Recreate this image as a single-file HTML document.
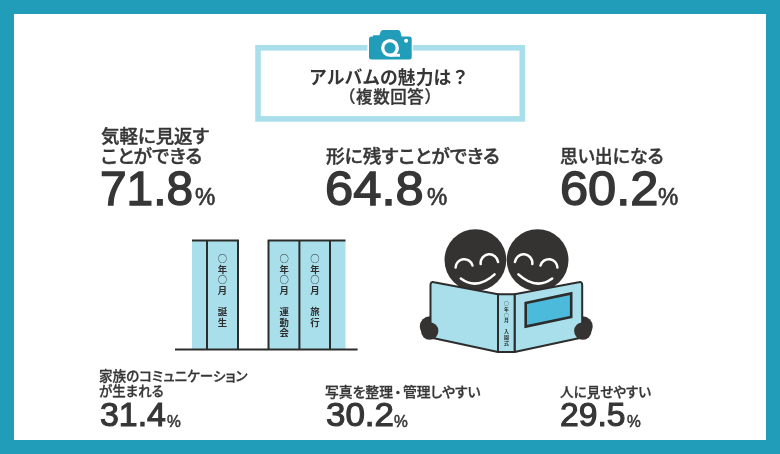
<!DOCTYPE html>
<html lang="ja">
<head>
<meta charset="utf-8">
<title>アルバムの魅力は？</title>
<style>
  html, body { margin: 0; padding: 0; }
  body {
    width: 780px; height: 454px; overflow: hidden; position: relative;
    background: #219db9;
    font-family: "Liberation Sans", "Noto Sans CJK JP", sans-serif;
    color: #363636;
  }
  .panel { position: absolute; left: 14px; top: 14px; width: 752px; height: 426px; background: #fff; }
  .abs { position: absolute; white-space: nowrap; }

  .title { font-size: 18px; line-height: 22px; font-weight: 700; transform-origin: 0 0; }
  .sub   { font-size: 16.6px; letter-spacing: 0.6px; line-height: 22px; font-weight: 500; -webkit-text-stroke: 0.3px #363636; transform-origin: 0 0; }

  .lab  { font-size: 18.4px; line-height: 20px; font-weight: 500; -webkit-text-stroke: 0.4px #363636; font-feature-settings: "palt" 1; transform-origin: 0 0; }
  .labs { font-size: 13.3px; line-height: 15px; font-weight: 500; -webkit-text-stroke: 0.3px #363636; font-feature-settings: "palt" 1; transform-origin: 0 0; }
  .num  { font-size: 48px; line-height: 50px; font-weight: 400; -webkit-text-stroke: 1.45px #363636; transform-origin: 0 0; }
  .pc   { font-size: 23px; line-height: 24px; font-weight: 400; -webkit-text-stroke: 0.65px #363636; transform-origin: 0 0; }
  .nums { font-size: 33.3px; line-height: 34px; font-weight: 400; -webkit-text-stroke: 1.1px #363636; transform-origin: 0 0; }
  .pcs  { font-size: 15.6px; line-height: 16px; font-weight: 400; -webkit-text-stroke: 0.5px #363636; transform-origin: 0 0; }

  .vt { position: absolute; writing-mode: vertical-rl; font-family: "Noto Sans CJK JP", "Liberation Sans", sans-serif; font-size: 9.4px; line-height: 12px; width: 12px; font-weight: 700; white-space: nowrap; letter-spacing: 1.2px; color: #2e2e2e; }
  .vt .c { font-weight: 500; }
</style>
</head>
<body>
<div class="panel"></div>

<!-- title -->
<svg class="abs" style="left:250px;top:40px" width="280" height="86" viewBox="250 40 280 86">
  <rect x="258" y="47.8" width="264.3" height="71.1" fill="none" stroke="#a8dfea" stroke-width="5.6"/>
  <rect x="367.4" y="44" width="45.4" height="8" fill="#fff"/>
</svg>
<svg class="abs" style="left:366px;top:28px" width="48" height="34" viewBox="366 28 48 34">
  <path d="M371.5 36.4 H373 V35.9 Q373 35.2 373.8 35.2 H379.4 L380.6 31.8 Q381.2 30 383 30 H398 Q399.8 30 400.4 31.8 L401.6 36.4 H409.2 Q411.7 36.4 411.7 38.9 V57 Q411.7 59.5 409.2 59.5 H371.5 Q369 59.5 369 57 V38.9 Q369 36.4 371.5 36.4 Z" fill="#219db9"/>
  <circle cx="390" cy="47.9" r="7.3" fill="none" stroke="#fff" stroke-width="3.3"/>
  <rect x="390" y="53.8" width="10" height="2.9" fill="#fff"/>
  <circle cx="406.1" cy="40.8" r="2" fill="#fff"/>
</svg>
<div class="abs title" id="t1" style="left:308.92px;top:66.65px;transform:scaleX(0.9894)">アルバムの魅力は？</div>
<div class="abs sub" id="t2" style="left:339.32px;top:87.45px;transform:scaleX(0.9932)">（複数回答）</div>

<!-- top row -->
<div class="abs lab" id="l1a" style="left:101.15px;top:127.30px;transform:scaleX(1.0028)">気軽に見返す</div>
<div class="abs lab" id="l1b" style="left:101px;top:147px;transform:scaleX(1.0177)">ことができる</div>
<div class="abs num" id="n1" style="left:99.96px;top:164px;transform:scaleX(0.9962)">71.8</div>
<div class="abs pc" id="p1" style="left:194.9px;top:184.9px;transform:scaleX(0.990)">%</div>

<div class="abs lab" id="l2" style="left:325.55px;top:147.20px;transform:scaleX(1.0198)">形に残すことができる</div>
<div class="abs num" id="n2" style="left:325.0px;top:164px;transform:scaleX(1.0559)">64.8</div>
<div class="abs pc" id="p2" style="left:426.9px;top:184.9px;transform:scaleX(0.990)">%</div>

<div class="abs lab" id="l3" style="left:559.71px;top:147.35px;transform:scaleX(0.9737)">思い出になる</div>
<div class="abs num" id="n3" style="left:559.9px;top:164px;transform:scaleX(1.0530)">60.2</div>
<div class="abs pc" id="p3" style="left:658.2px;top:184.9px;transform:scaleX(0.990)">%</div>

<!-- bottom row -->
<div class="abs labs" id="s1a" style="left:99.29px;top:369.45px;transform:scaleX(1.0193)">家族のコミュニケーション</div>
<div class="abs labs" id="s1b" style="left:99px;top:384.4px;transform:scaleX(1.0136)">が生まれる</div>
<div class="abs nums" id="n4" style="left:99.5px;top:398.3px;transform:scaleX(1.0172)">31.4</div>
<div class="abs pcs" id="p4" style="left:167.1px;top:413.9px;transform:scaleX(0.995)">%</div>

<div class="abs labs" id="s2" style="left:324.7px;top:385px;transform:scaleX(1.0378)">写真を整理<span style="margin:0 1.5px">・</span>管理しやすい</div>
<div class="abs nums" id="n5" style="left:325.7px;top:398.3px;transform:scaleX(1.0486)">30.2</div>
<div class="abs pcs" id="p5" style="left:394.4px;top:413.9px;transform:scaleX(0.995)">%</div>

<div class="abs labs" id="s3" style="left:559.6px;top:385px;transform:scaleX(1.0208)">人に見せやすい</div>
<div class="abs nums" id="n6" style="left:559.5px;top:398.3px;transform:scaleX(1.0119)">29.5</div>
<div class="abs pcs" id="p6" style="left:626.9px;top:413.9px;transform:scaleX(0.995)">%</div>

<!-- bookshelf -->
<svg class="abs" style="left:170px;top:235px" width="195" height="120" viewBox="170 235 195 120">
  <rect x="192" y="240.5" width="46" height="109" fill="#a9deeb"/>
  <rect x="268.5" y="240.5" width="77" height="109" fill="#a9deeb"/>
  <g stroke="#2c2c2c" stroke-width="2" fill="none">
    <path d="M192 240.5 H239"/>
    <path d="M207 240.5 V349.5"/>
    <path d="M238 240.5 V349.5"/>
    <path d="M267.7 240.5 H345.5"/>
    <path d="M268.5 240.5 V349.5"/>
    <path d="M299.4 240.5 V349.5"/>
    <path d="M330 240.5 V349.5"/>
    <path d="M175 349.5 H357.6"/>
  </g>
</svg>
<div class="vt" id="v1" style="left:216.4px;top:253.5px"><span class="c">○</span>年<span class="c">○</span>月　誕生</div>
<div class="vt" id="v2" style="left:278.1px;top:253.5px"><span class="c">○</span>年<span class="c">○</span>月　運動会</div>
<div class="vt" id="v3" style="left:309px;top:253.5px"><span class="c">○</span>年<span class="c">○</span>月　旅行</div>

<!-- readers -->
<svg class="abs" style="left:415px;top:225px" width="185" height="135" viewBox="415 225 185 135">
  <circle cx="475.4" cy="260.1" r="30.9" fill="#353232"/>
  <circle cx="537.6" cy="260.1" r="30.9" fill="#353232"/>
  <g fill="none" stroke="#fff" stroke-width="2.5" stroke-linecap="round">
    <path d="M455.6 267.6 A8.6 8.6 0 0 1 472.5 265.5"/>
    <path d="M480.7 264.1 A8.6 8.6 0 0 1 498.1 262"/>
    <path d="M460.8 278.5 Q477 290.5 494.6 274.4"/>
    <path d="M514.9 262 A8.6 8.6 0 0 1 532.3 264.1"/>
    <path d="M540.5 265.5 A8.6 8.6 0 0 1 557.4 267.6"/>
    <path d="M518.4 274.4 Q536 290.5 552.2 278.5"/>
  </g>
  <circle cx="430" cy="326.5" r="10.2" fill="#353232"/>
  <circle cx="582.5" cy="326.5" r="10.2" fill="#353232"/>
  <g stroke="#2c2c2c" stroke-width="2" stroke-linejoin="round" fill="#a8dfea">
    <path d="M434 282.2 L498 294.2 V352 L430.5 337.6 V285 Q430.5 281.4 434 282.2 Z"/>
    <path d="M578.7 282.2 L514.6 294.2 V352 L582.2 337.6 V285 Q582.2 281.4 578.7 282.2 Z"/>
    <path d="M498 294.2 H514.6 V352 H498 Z"/>
    <path d="M525.7 303.1 L571.2 293.4 V316.95 L525.7 326.6 Z" fill="#4cbada" stroke-width="2.6" stroke-linejoin="miter"/>
  </g>
  <circle cx="429.7" cy="331" r="8.7" fill="#353232"/>
  <circle cx="582.8" cy="331" r="8.7" fill="#353232"/>
  <text font-size="4.9" font-weight="700" fill="#2c2c2c" text-anchor="middle" font-family="'Noto Sans CJK JP','Liberation Sans',sans-serif">
    <tspan x="506.4" y="305.3">○</tspan><tspan x="506.4" y="311">年</tspan><tspan x="506.4" y="316.7">○</tspan><tspan x="506.4" y="322.4">月</tspan><tspan x="506.4" y="333.2">入</tspan><tspan x="506.4" y="338.9">園</tspan><tspan x="506.4" y="344.6">式</tspan>
  </text>
</svg>
</body>
</html>
